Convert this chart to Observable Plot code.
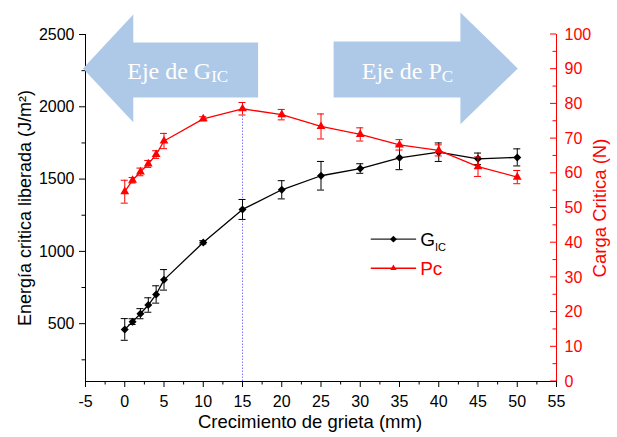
<!DOCTYPE html>
<html><head><meta charset="utf-8">
<script src="https://cdn.jsdelivr.net/npm/d3@7"></script>
<script src="https://cdn.jsdelivr.net/npm/@observablehq/plot@0.6"></script>
<style>body{margin:0;background:#fff}#chart{width:617px;height:437px}</style>
</head><body><div id="chart"></div>
<script>
// ---- data ----
const crack  = [0, 1, 2, 3, 4, 5, 10, 15, 20, 25, 30, 35, 40, 45, 50];
const gic    = [460, 514, 569, 629, 702, 803, 1062, 1290, 1426, 1523, 1573, 1647, 1686, 1640, 1650];
const gicErr = [75, 20, 35, 50, 60, 71, 12, 69, 63, 99, 33, 82, 64, 40, 59];
const pc     = [54.7, 58.0, 60.4, 62.7, 65.4, 69.3, 75.7, 78.6, 76.9, 73.5, 71.2, 68.2, 66.6, 61.9, 58.9];
const pcErr  = [3.3, 0.8, 1.1, 1.0, 1.1, 2.2, 0.6, 1.8, 1.5, 3.6, 1.9, 1.5, 1.6, 2.8, 1.9];
const xTicks = [-5, 0, 5, 10, 15, 20, 25, 30, 35, 40, 45, 50, 55];
const xMinor = [-2.5, 2.5, 7.5, 12.5, 17.5, 22.5, 27.5, 32.5, 37.5, 42.5, 47.5, 52.5];
const gicTicks = [500, 1000, 1500, 2000, 2500];
const gicMinor = [250, 750, 1250, 1750, 2250];
const pcTicks = [0, 10, 20, 30, 40, 50, 60, 70, 80, 90, 100];
const pcMinor = [5, 15, 25, 35, 45, 55, 65, 75, 85, 95];
const xLabel = "Crecimiento de grieta (mm)";
const yLabel = "Energía critica liberada (J/m²)";
const y2Label = "Carga Critica (N)";
const markedX = 15;

const RED = "#ff0000";
const FONT = "'Liberation Sans', Arial, sans-serif";
// right axis (Pc, 0..100) mapped onto left axis domain (100..2500)
const P = p => 100 + 24 * p;
const rows = crack.map((c, i) => ({c, g: gic[i], ge: gicErr[i], p: P(pc[i]), pl: P(pc[i] - pcErr[i]), ph: P(pc[i] + pcErr[i])}));
const capW = 0.45;

// annotation arrows (data coordinates)
const arrowLeft  = [[-5.26, 2262], [1.15, 2635], [1.15, 2441], [17.05, 2441], [17.05, 2061], [1.15, 2061], [1.15, 1889]];
const arrowRight = [[26.67, 2448], [42.82, 2448], [42.82, 2648], [50.13, 2262], [42.82, 1875], [42.82, 2061], [26.67, 2061]];

function annotations(index, scales, values, dims) {
  const x = scales.x, y = scales.y;
  const g = d3.create("svg:g").attr("text-anchor", "start");
  const poly = pts => pts.map(([a, b]) => `${x(a)},${y(b)}`).join(" ");
  g.append("polygon").attr("points", poly(arrowLeft)).attr("fill", "#adc9e7");
  g.append("polygon").attr("points", poly(arrowRight)).attr("fill", "#adc9e7");
  const lab = (xx, yy, main, sub) => {
    const t = g.append("text").attr("x", x(xx)).attr("y", y(yy)).attr("text-anchor", "start")
      .attr("fill", "white").attr("font-family", "'Liberation Serif', 'Times New Roman', serif")
      .attr("font-size", 24);
    t.append("tspan").text(main);
    t.append("tspan").attr("font-size", 17).attr("dy", 3).text(sub);
  };
  lab(0.38, 2192, "Eje de G", "IC");
  lab(30.26, 2192, "Eje de P", "C");

  // legend
  const lx1 = x(31.4), lx2 = x(37.18), lm = (lx1 + lx2) / 2, tx = x(37.7);
  const y1 = y(1081), y2 = y(880);
  g.append("line").attr("x1", lx1).attr("x2", lx2).attr("y1", y1).attr("y2", y1).attr("stroke", "#222").attr("stroke-width", 1.3);
  g.append("path").attr("d", d3.symbol(d3.symbolDiamond2, 30)()).attr("transform", `translate(${lm},${y1})`).attr("fill", "black");
  const t1 = g.append("text").attr("x", tx).attr("y", y1 + 7).attr("text-anchor", "start").attr("font-family", FONT).attr("font-size", 19).attr("fill", "black");
  t1.append("tspan").text("G");
  t1.append("tspan").attr("font-size", 11).attr("dy", 5).text("IC");
  g.append("line").attr("x1", lx1).attr("x2", lx2).attr("y1", y2).attr("y2", y2).attr("stroke", RED).attr("stroke-width", 1.3);
  g.append("path").attr("d", d3.symbol(d3.symbolTriangle2, 28)()).attr("transform", `translate(${lm},${y2})`).attr("fill", RED);
  g.append("text").attr("x", tx).attr("y", y2 + 7).attr("text-anchor", "start").attr("font-family", FONT).attr("font-size", 19).attr("fill", RED).text("Pc");

  // right axis inward ticks
  const xr = x(55);
  pcTicks.forEach(v => g.append("line").attr("x1", xr).attr("x2", xr - 6).attr("y1", y(P(v))).attr("y2", y(P(v))).attr("stroke", RED));
  pcMinor.forEach(v => g.append("line").attr("x1", xr).attr("x2", xr - 3.5).attr("y1", y(P(v))).attr("y2", y(P(v))).attr("stroke", RED));
  return g.node();
}

const chart = Plot.plot({
  width: 617, height: 437,
  marginTop: 34, marginLeft: 85, marginRight: 61, marginBottom: 56,
  x: {domain: [-5, 55], label: null},
  y: {domain: [100, 2500], label: null},
  style: {fontFamily: FONT, fontSize: "16px", background: "white", overflow: "visible"},
  marks: [
    Plot.ruleX([markedX], {x: d => d, y1: 100, y2: rows.find(r => r.c === markedX).p, stroke: "#7a7aff", strokeDasharray: "1.5,1.5", strokeWidth: 1}),
    // G_IC
    Plot.ruleX(rows, {x: "c", y1: d => d.g - d.ge, y2: d => d.g + d.ge, stroke: "black", strokeWidth: 1}),
    Plot.ruleY(rows, {y: d => d.g - d.ge, x1: d => d.c - capW, x2: d => d.c + capW, stroke: "black", strokeWidth: 1}),
    Plot.ruleY(rows, {y: d => d.g + d.ge, x1: d => d.c - capW, x2: d => d.c + capW, stroke: "black", strokeWidth: 1}),
    Plot.line(rows, {x: "c", y: "g", stroke: "black", strokeWidth: 1.3}),
    Plot.dot(rows, {x: "c", y: "g", symbol: "diamond2", fill: "black", r: 3.6}),
    // Pc
    Plot.ruleX(rows, {x: "c", y1: "pl", y2: "ph", stroke: RED, strokeWidth: 1}),
    Plot.ruleY(rows, {y: "pl", x1: d => d.c - capW, x2: d => d.c + capW, stroke: RED, strokeWidth: 1}),
    Plot.ruleY(rows, {y: "ph", x1: d => d.c - capW, x2: d => d.c + capW, stroke: RED, strokeWidth: 1}),
    Plot.line(rows, {x: "c", y: "p", stroke: RED, strokeWidth: 1.3}),
    Plot.dot(rows, {x: "c", y: "p", symbol: "triangle2", fill: RED, r: 4.2}),
    // axes
    Plot.axisX({ticks: xTicks, tickSize: 6, tickPadding: 8, fontSize: 16, tickFormat: d => String(d), label: null}),
    Plot.axisX({ticks: xMinor, tickSize: 3.5, tickFormat: () => "", label: null}),
    Plot.axisY({ticks: gicTicks, tickSize: 6, tickPadding: 5, fontSize: 16, tickFormat: d => String(d), label: null}),
    Plot.axisY({ticks: gicMinor, tickSize: 3.5, tickFormat: () => "", label: null}),
    Plot.axisY({anchor: "right", ticks: pcTicks.map(P), tickFormat: v => String(Math.round((v - 100) / 24)), tickSize: 0, tickPadding: 8, color: RED, fontSize: 16, label: null}),
    Plot.ruleX([-5], {x: d => d, stroke: "black"}),
    Plot.ruleY([100], {y: d => d, stroke: "black"}),
    Plot.ruleX([55], {x: d => d, stroke: RED}),
    // axis titles
    Plot.text([xLabel], {text: d => d, frameAnchor: "bottom", dy: 46, dx: -11, fontSize: 18.5}),
    Plot.text([yLabel], {text: d => d, frameAnchor: "left", textAnchor: "middle", rotate: -90, dx: -60, fontSize: 18}),
    Plot.text([y2Label], {text: d => d, frameAnchor: "right", textAnchor: "middle", rotate: -90, dx: 44, fontSize: 18.5, fill: RED}),
    annotations
  ]
});
document.getElementById("chart").append(chart);
</script>
</body></html>
